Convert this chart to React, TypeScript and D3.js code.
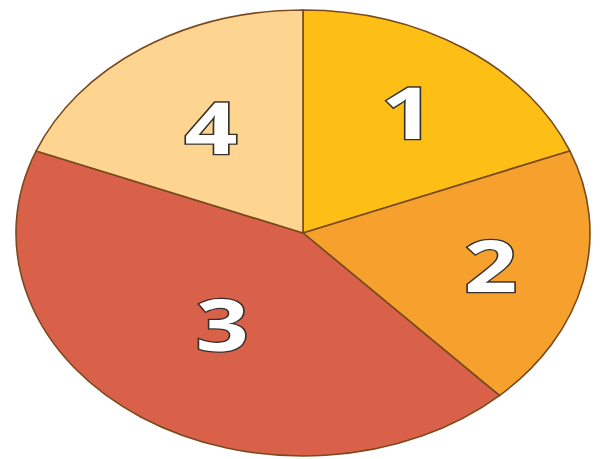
import React, { useEffect, useRef } from 'react';
import * as d3 from 'd3';

const labels = ['1', '2', '3', '4'];
const values = [19, 19, 43, 19];
const colors = ['#FDBF16', '#F6A12D', '#D9614A', '#FDD590'];

const W = 602;
const H = 459;

export default function App() {
  const svgRef = useRef<SVGSVGElement>(null);

  useEffect(() => {
    const svg = d3.select(svgRef.current);
    svg.selectAll('*').remove();

    const r = 223;
    const sx = 287 / 223; // picture is a circle stretched sideways
    // how far out each number sits, as a share of the radius
    const labelPos = [0.65, 0.67, 0.5, 0.57];

    const g = svg
      .append('g')
      .attr('transform', `translate(303,233) scale(${sx},1)`);

    const pie = d3.pie<number>().sort(null).value(d => d);
    const arcs = pie(values);

    const arc = d3.arc<d3.PieArcDatum<number>>().innerRadius(0).outerRadius(r);

    g.selectAll('path.slice')
      .data(arcs)
      .join('path')
      .attr('class', 'slice')
      .attr('d', arc)
      .attr('fill', (d, i) => colors[i])
      .attr('stroke', '#7a4a1e')
      .attr('stroke-width', 1.6)
      .attr('vector-effect', 'non-scaling-stroke');

    g.selectAll('text.lbl')
      .data(arcs)
      .join('text')
      .attr('class', 'lbl')
      .attr('transform', (d, i) => {
        const lr = r * labelPos[i];
        const [x, y] = d3
          .arc<d3.PieArcDatum<number>>()
          .innerRadius(lr)
          .outerRadius(lr)
          .centroid(d);
        return `translate(${x},${y})`;
      })
      .attr('text-anchor', 'middle')
      .attr('dy', '0.36em')
      .attr('font-family', '"Open Sans", sans-serif')
      .attr('font-weight', 700)
      .attr('font-size', 72)
      .attr('fill', '#ffffff')
      .attr('stroke', '#35302b')
      .attr('stroke-width', 2.6)
      .attr('paint-order', 'stroke')
      .text((d, i) => labels[i]);
  }, []);

  return (
    <div style={{ position: 'fixed', left: 0, top: 0 }}>
      <svg ref={svgRef} width={W} height={H} style={{ display: 'block', background: '#fff' }} />
    </div>
  );
}
